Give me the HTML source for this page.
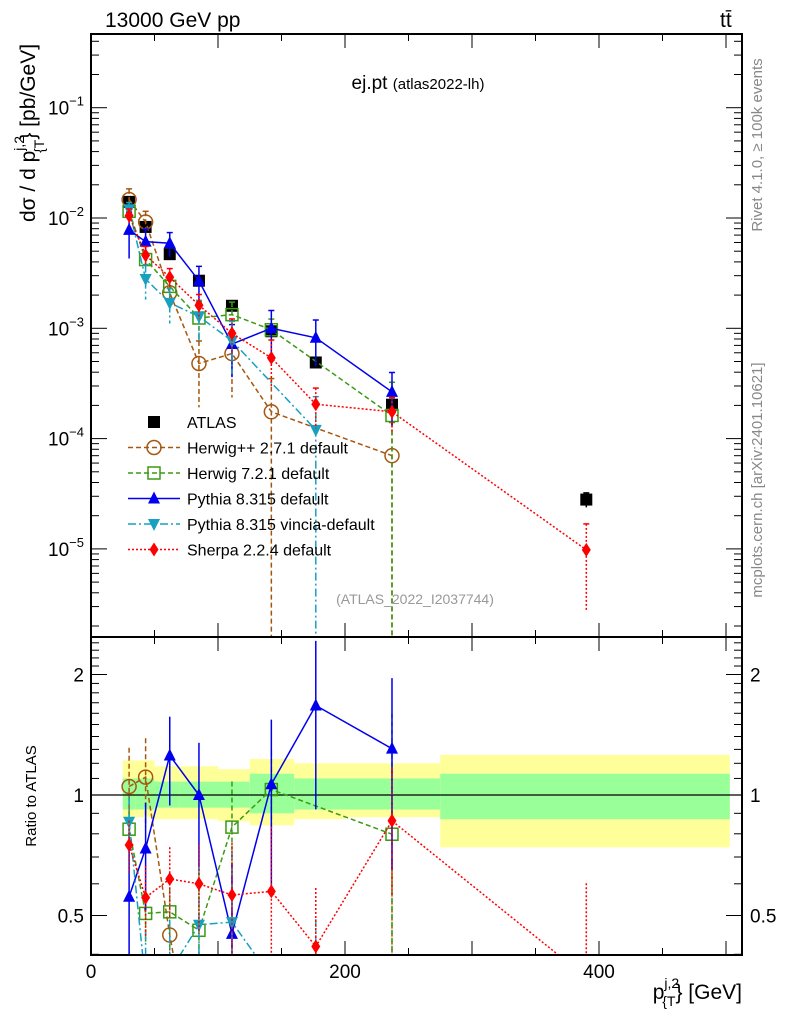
<!DOCTYPE html>
<html><head><meta charset="utf-8"><style>
html,body{margin:0;padding:0;background:#fff;overflow:hidden;}
svg{display:block;font-family:"Liberation Sans",sans-serif;}
</style></head><body>
<svg id="c" width="786" height="1024" viewBox="0 0 786 1024" xmlns="http://www.w3.org/2000/svg">
<g id="bands"></g>
<g id="series"></g>
<g id="axes"></g>
<text x="105" y="27" font-size="21">13000 GeV pp</text>
<text x="720" y="27" font-size="21">tt̄</text>
<text x="418" y="89" font-size="19" text-anchor="middle">ej.pt <tspan font-size="15">(atlas2022-lh)</tspan></text>
<text transform="translate(35,133) rotate(-90)" font-size="21" text-anchor="middle">dσ / d p<tspan font-size="14" dy="-11">j,2</tspan><tspan font-size="14" dy="20" dx="-17">{T</tspan><tspan dy="-9">} [pb/GeV]</tspan></text>
<text transform="translate(762,145) rotate(-90)" font-size="15" fill="#888" text-anchor="middle">Rivet 4.1.0, ≥ 100k events</text>
<text transform="translate(762,480) rotate(-90)" font-size="15" fill="#888" text-anchor="middle">mcplots.cern.ch [arXiv:2401.10621]</text>
<text x="415" y="604" font-size="14" fill="#999" text-anchor="middle">(ATLAS_2022_I2037744)</text>
<text transform="translate(36,796) rotate(-90)" font-size="15" text-anchor="middle">Ratio to ATLAS</text>
<text x="742" y="999" font-size="21" text-anchor="end">p<tspan font-size="14" dy="-11">j,2</tspan><tspan font-size="14" dy="18" dx="-17">{T</tspan><tspan dy="-7">} [GeV]</tspan></text>
<g id="legend"></g>
</svg>
<script>
const xVals=[30,43,62,85,111,142,177,237,390];
const atlas=[0.0140,0.0083,0.0047,0.0027,0.0016,0.00094,0.00049,0.000203,0.000028];
const atlasErr=[0.05,0.05,0.06,0.07,0.08,0.09,0.1,0.12,0.15];
const herwigpp=[0.0147,0.0092,0.0021,0.00048,0.00059,0.000175,null,0.000070,null];
const herwigppErr=[0.25,0.25,0.3,0.6,0.6,1.0,null,1.0,null];
const herwig7=[0.0115,0.0042,0.0024,0.00124,0.00133,0.00097,null,0.000162,null];
const herwig7Err=[0.12,0.15,0.2,0.4,0.3,0.25,null,1.0,null];
const pythia=[0.0078,0.0061,0.0059,0.00270,0.00072,0.00100,0.00082,0.000265,null];
const pythiaErr=[0.45,0.3,0.25,0.35,0.5,0.45,0.45,0.5,null];
const vincia=[0.0120,0.0028,0.0017,0.00128,0.00077,null,0.000120,null,null];
const vinciaErr=[0.15,0.35,0.35,0.4,0.5,null,1.0,null,null];
const sherpa=[0.0105,0.0046,0.0029,0.00162,0.00090,0.00054,0.000205,0.000175,0.0000098];
const sherpaErr=[0.15,0.2,0.2,0.25,0.35,0.45,0.4,0.35,0.72];
const binEdges=[25,35,50,70,100,125,160,200,275,503];
const yellowHi=[1.22,1.22,1.18,1.18,1.16,1.23,1.2,1.2,1.26];
const yellowLo=[0.88,0.88,0.87,0.87,0.86,0.84,0.87,0.88,0.74];
const greenHi=[1.10,1.10,1.08,1.08,1.08,1.13,1.1,1.1,1.13];
const greenLo=[0.92,0.92,0.93,0.93,0.93,0.90,0.92,0.92,0.87];
const xTicks=[0,200,400];
const yTicks=[-1,-2,-3,-4,-5];
const rTicks=[0.5,1,2];

const NS="http://www.w3.org/2000/svg";
const L=91,R=742,T=34,MB=637,RB=955;
const X=v=>L+v*1.27;
const Y=v=>218-(Math.log10(v)+2)*110.3;
const RY=r=>795-Math.log2(r)*120.5;
function el(tag,attrs,parent){const e=document.createElementNS(NS,tag);for(const k in attrs)e.setAttribute(k,attrs[k]);(parent||document.getElementById('series')).appendChild(e);return e;}
const bands=document.getElementById('bands'),axes=document.getElementById('axes'),series=document.getElementById('series');

for(let i=0;i<binEdges.length-1;i++){
  const x0=X(binEdges[i]),x1=X(binEdges[i+1]);
  const y=el('rect',{x:x0,y:RY(yellowHi[i]),width:x1-x0,height:RY(yellowLo[i])-RY(yellowHi[i]),fill:'#ffff99'},bands);
  
  
  const g=el('rect',{x:x0,y:RY(greenHi[i]),width:x1-x0,height:RY(greenLo[i])-RY(greenHi[i]),fill:'#99ff99'},bands);
  
  
}
const one=el('line',{x1:L,x2:R,y1:RY(1),y2:RY(1),stroke:'#000','stroke-width':1.2},bands);



el('rect',{x:L,y:T,width:R-L,height:MB-T,fill:'none',stroke:'#000','stroke-width':2},axes);
el('rect',{x:L,y:MB,width:R-L,height:RB-MB,fill:'none',stroke:'#000','stroke-width':2},axes);
for(let v=0;v<=510;v+=50){const x=X(v);const big=v%100===0?14:7;
  el('line',{x1:x,x2:x,y1:T,y2:T+big,stroke:'#000'},axes);
  el('line',{x1:x,x2:x,y1:MB,y2:MB-big,stroke:'#000'},axes);
  el('line',{x1:x,x2:x,y1:MB,y2:MB+big,stroke:'#000'},axes);
  el('line',{x1:x,x2:x,y1:RB,y2:RB-big,stroke:'#000'},axes);}
xTicks.forEach(v=>{const t=el('text',{x:X(v),y:978,'font-size':19,'text-anchor':'middle'},axes);t.textContent=v;
  
  });
for(let d=-6;d<0;d++)for(let m=1;m<10;m++){const v=m*Math.pow(10,d);const y=Y(v);if(y<T||y>MB)continue;const w=m===1?16:8;
  el('line',{x1:L,x2:L+w,y1:y,y2:y,stroke:'#000'},axes);el('line',{x1:R,x2:R-w,y1:y,y2:y,stroke:'#000'},axes);}
yTicks.forEach(d=>{const t=el('text',{x:84,y:Y(Math.pow(10,d))+7,'font-size':19,'text-anchor':'end'},axes);t.innerHTML='10<tspan font-size="13" dy="-9">−'+(-d)+'</tspan>';
  
  });
[0.4,0.5,0.6,0.7,0.8,0.9,1,1.1,1.2,1.3,1.4,1.5,1.6,1.7,1.8,1.9,2,2.1,2.2,2.3,2.4,2.5].forEach(r=>{const y=RY(r);if(y<MB||y>RB)return;const w=(r===0.5||r===1||r===2)?16:8;
  el('line',{x1:L,x2:L+w,y1:y,y2:y,stroke:'#000'},axes);el('line',{x1:R,x2:R-w,y1:y,y2:y,stroke:'#000'},axes);});
rTicks.forEach(r=>{const a=el('text',{x:84,y:RY(r)+7,'font-size':19,'text-anchor':'end'},axes);a.textContent=r;
  
  
  const b=el('text',{x:750,y:RY(r)+7,'font-size':19},axes);b.textContent=r;
  
  });

function marker(kind,x,y,color,parent){
  const s=6;let m;
  if(kind==='sq')m=el('rect',{x:x-s,y:y-s,width:2*s,height:2*s,fill:'#000'},parent);
  else if(kind==='circ')m=el('circle',{cx:x,cy:y,r:s+1,fill:'none',stroke:color,'stroke-width':1.5},parent);
  else if(kind==='osq')m=el('rect',{x:x-s,y:y-s,width:2*s,height:2*s,fill:'none',stroke:color,'stroke-width':1.5},parent);
  else if(kind==='tri')m=el('polygon',{points:`${x},${y-s-1} ${x-s},${y+s-1} ${x+s},${y+s-1}`,fill:color},parent);
  else if(kind==='dtri')m=el('polygon',{points:`${x},${y+s+1} ${x-s},${y-s+1} ${x+s},${y-s+1}`,fill:color},parent);
  else m=el('polygon',{points:`${x},${y-7} ${x-4.5},${y} ${x},${y+7} ${x+4.5},${y}`,fill:color},parent);
  return m;
}
function clip(v,lo,hi){return Math.max(lo,Math.min(hi,v));}
function drawSeries(name,vals,errs,color,dash,kind,isData){
  const g=el('g',{});
  
  
  const main=[],rat=[];
  vals.forEach((v,i)=>{if(v==null)return;const x=X(xVals[i]);main.push([x,Y(v)]);rat.push([x,RY(v/atlas[i])]);});
  if(!isData){
    const p1=el('polyline',{points:main.map(p=>p.join(',')).join(' '),fill:'none',stroke:color,'stroke-width':1.5,'stroke-dasharray':dash},g);
    
    
    const cp=el('clipPath',{id:'cp'+name},g);el('rect',{x:L,y:MB,width:R-L,height:RB-MB},cp);
    const p2=el('polyline',{points:rat.map(p=>p.join(',')).join(' '),fill:'none',stroke:color,'stroke-width':1.5,'stroke-dasharray':dash,'clip-path':`url(#cp${name})`},g);
    
    
  }
  vals.forEach((v,i)=>{if(v==null)return;const x=X(xVals[i]);const e=errs[i];
    const hi=Y(v*(1+e)),lo=e>=1?MB:clip(Y(v*(1-e)),T,MB);
    el('line',{x1:x,x2:x,y1:hi,y2:lo,stroke:color,'stroke-width':1.5,'stroke-dasharray':isData?'':dash},g);
    el('line',{x1:x-3,x2:x+3,y1:hi,y2:hi,stroke:color,'stroke-width':1.5},g);
    const m=marker(kind,x,Y(v),color,g);
    
    
    if(!isData){const r=v/atlas[i];const ry=RY(r);
      const rh=clip(RY(r*(1+e)),MB,RB),rl=e>=1?RB:clip(RY(r*(1-e)),MB,RB);
      if(rh<RB-1)el('line',{x1:x,x2:x,y1:rh,y2:rl,stroke:color,'stroke-width':1.5,'stroke-dasharray':dash},g);
      if(ry>=MB&&ry<=RB){const m2=marker(kind,x,ry,color,g);
        
        }}
  });
}
drawSeries('atlas',atlas,atlasErr,'#000','','sq',true);
drawSeries('herwigpp',herwigpp,herwigppErr,'#a6570f','5,3','circ');
drawSeries('herwig7',herwig7,herwig7Err,'#3a9a14','5,3','osq');
drawSeries('pythia',pythia,pythiaErr,'#0000ee','','tri');
drawSeries('vincia',vincia,vinciaErr,'#18a0c0','8,3,2,3','dtri');
drawSeries('sherpa',sherpa,sherpaErr,'#ff0000','2,2','dia');

const lg=document.getElementById('legend');
const items=[['ATLAS','#000','','sq'],['Herwig++ 2.7.1 default','#a6570f','5,3','circ'],['Herwig 7.2.1 default','#3a9a14','5,3','osq'],['Pythia 8.315 default','#0000ee','','tri'],['Pythia 8.315 vincia-default','#18a0c0','8,3,2,3','dtri'],['Sherpa 2.2.4 default','#ff0000','2,2','dia']];
items.forEach((it,i)=>{const y=422+i*25.5;
  const g=el('g',{},lg);
  
  
  if(i>0)el('line',{x1:128,x2:180,y1:y,y2:y,stroke:it[1],'stroke-width':1.5,'stroke-dasharray':it[2]},g);
  marker(it[3],154,y,it[1],g);
  const t=el('text',{x:187,y:y+6,'font-size':16},g);t.textContent=it[0];});
</script>
</body></html>
